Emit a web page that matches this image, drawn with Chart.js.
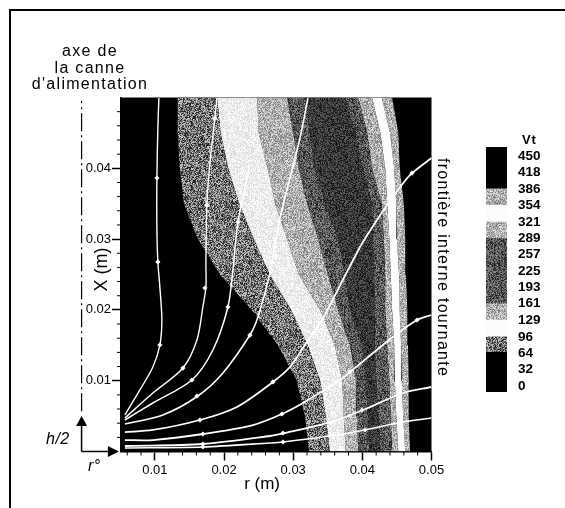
<!DOCTYPE html>
<html>
<head>
<meta charset="utf-8">
<title>Vt</title>
<script src="https://cdn.jsdelivr.net/npm/chart.js@4/dist/chart.umd.js"></script>
<style>
    body { margin: 0; background: #fff; width: 565px; height: 508px; overflow: hidden; position: relative; font-family: "Liberation Sans", Arial, sans-serif; color: #000; }
    canvas { position: absolute; display: block; }
    #frame { position: absolute; left: 9px; top: 9px; right: 0; bottom: 0; border-top: 2.5px solid #000; border-left: 2.5px solid #000; }
    .note { position: absolute; font-size: 16px; letter-spacing: 1.3px; white-space: nowrap; }
    #axeLabel { left: 0; top: 43px; width: 180px; text-align: center; line-height: 16.5px; }
    #frontiere { left: 434px; top: 158px; writing-mode: vertical-rl; }
    #hLabel { left: 46px; top: 430px; font-style: italic; letter-spacing: 0.5px; }
    #rLabel { left: 88px; top: 457px; font-style: italic; letter-spacing: 0.5px; }
    #vtLabel { left: 522px; top: 132px; font-size: 13px; font-weight: bold; letter-spacing: 0.8px; }
</style>
</head>
<body>
<div id="frame"></div>
<canvas id="fieldChart" width="470" height="508" style="left:0;top:0"></canvas>
<canvas id="legendChart" width="95" height="280" style="left:470px;top:130px"></canvas>
<div class="note" id="axeLabel">axe de<br>la canne<br>d'alimentation</div>
<div class="note" id="frontiere">frontière interne tournante</div>
<div class="note" id="hLabel">h/2</div>
<div class="note" id="rLabel">r°</div>
<div class="note" id="vtLabel">Vt</div>

<script>
// Heights (m) where the contour limits were read
const levelsX = [0, 0.005, 0.01, 0.015, 0.02, 0.025, 0.03, 0.035, 0.04, 0.045, 0.05];

// Contour limits, r (m) at each height, from the axis side to the wall
const limit64 = [0.0323, 0.0317, 0.0305, 0.0278, 0.0240, 0.0194, 0.0162, 0.0142, 0.0136, 0.0133, 0.0133];
const limit96 = [0.0353, 0.0347, 0.0339, 0.0321, 0.0297, 0.0266, 0.0243, 0.0222, 0.0206, 0.0195, 0.0190];
const limit129 = [0.0376, 0.0373, 0.0371, 0.0360, 0.0339, 0.0308, 0.0291, 0.0274, 0.0263, 0.0250, 0.0248];
const limit161 = [0.0394, 0.0392, 0.0391, 0.0382, 0.0365, 0.0350, 0.0336, 0.0320, 0.0308, 0.0300, 0.0291];
const limit193 = [0.0410, 0.0408, 0.0405, 0.0400, 0.0382, 0.0375, 0.0365, 0.0346, 0.0331, 0.0324, 0.0317];
const limit257 = [0.0426, 0.0423, 0.0420, 0.0418, 0.0418, 0.0417, 0.0415, 0.0414, 0.0400, 0.0389, 0.0375];
const limit289 = [0.0443, 0.0441, 0.0439, 0.0436, 0.0433, 0.0433, 0.0431, 0.0428, 0.0414, 0.0407, 0.0394];
const limit321 = [0.0452, 0.0449, 0.0447, 0.0446, 0.0443, 0.0441, 0.0439, 0.0436, 0.0433, 0.0426, 0.0414];
const limit354 = [0.0462, 0.0459, 0.0457, 0.0456, 0.0454, 0.0453, 0.0450, 0.0449, 0.0446, 0.0440, 0.0428];
const limit386 = [0.0469, 0.0467, 0.0467, 0.0466, 0.0465, 0.0463, 0.0462, 0.0460, 0.0454, 0.0452, 0.0443];

// Texture of each band between two limits
const bandLimits = [limit64, limit96, limit129, limit161, limit193, limit257, limit289, limit321, limit354, limit386];
const bandShades = [null, 'mid', 'white', 'light', 'dark', 'core', 'dark', 'light', 'bright', 'light'];

// Streamlines
const line1R = [0.00566, 0.00783, 0.00971, 0.01072, 0.01101, 0.01072, 0.01043, 0.01029, 0.01029, 0.01043, 0.01058];
const line1X = [0.00516, 0.00869, 0.01193, 0.01504, 0.01857, 0.02323, 0.02677, 0.03157, 0.03863, 0.04569, 0.04993];
const line2R = [0.00566, 0.00971, 0.01405, 0.01608, 0.01694, 0.01738, 0.01738, 0.01752, 0.01796, 0.01868, 0.01897];
const line2X = [0.00473, 0.00826, 0.01179, 0.01575, 0.02041, 0.02323, 0.02677, 0.03482, 0.04089, 0.0471, 0.04993];
const line3R = [0.00566, 0.00971, 0.01535, 0.01839, 0.02056, 0.02128, 0.02201, 0.02374];
const line3X = [0.00445, 0.00685, 0.0101, 0.01434, 0.02041, 0.02563, 0.03241, 0.04047];
const line4R = [0.00566, 0.01116, 0.01622, 0.01984, 0.02374, 0.0249, 0.02664, 0.02809, 0.02953, 0.03098, 0.03214];
const line4X = [0.00388, 0.00516, 0.00784, 0.01109, 0.01645, 0.019, 0.02521, 0.03298, 0.03863, 0.04428, 0.04993];
const line5R = [0.00566, 0.00971, 0.01651, 0.02186, 0.02707, 0.02953, 0.0317, 0.03416, 0.03792, 0.04009, 0.04328, 0.04516, 0.04689, 0.05];
const line5X = [0.00275, 0.00304, 0.00445, 0.00629, 0.00982, 0.01193, 0.01504, 0.01857, 0.02563, 0.02959, 0.03439, 0.03693, 0.03905, 0.04145];
const line6R = [0.00566, 0.00971, 0.01694, 0.02418, 0.02837, 0.03141, 0.03677, 0.03821, 0.04443, 0.04791, 0.05];
const line6X = [0.00162, 0.00162, 0.00247, 0.00374, 0.0053, 0.00685, 0.0101, 0.01123, 0.01617, 0.01857, 0.01928];
const line7R = [0.00566, 0.01694, 0.02664, 0.02881, 0.03503, 0.04009, 0.04588, 0.05];
const line7X = [0.00078, 0.00106, 0.00219, 0.00261, 0.00403, 0.00586, 0.00826, 0.00911];
const line8R = [0.00566, 0.01694, 0.02664, 0.02852, 0.03532, 0.04038, 0.04588, 0.05];
const line8X = [0.00049, 0.00064, 0.0012, 0.00134, 0.00219, 0.00304, 0.00417, 0.00473];
const lineWidths = [1.4, 1.4, 1.5, 1.6, 1.8, 1.8, 1.8, 1.6];

// Flow arrows on the streamlines
const arrowR = [0.01072, 0.01043, 0.01029, 0.01405, 0.01723, 0.01752, 0.01868, 0.01535, 0.02056, 0.02201, 0.01608, 0.02374,
    0.01651, 0.02707, 0.04718, 0.01694, 0.02837, 0.03821, 0.04791, 0.01694, 0.02852, 0.03995, 0.01694, 0.02852, 0.04038];
const arrowX = [0.01504, 0.02677, 0.03863, 0.01179, 0.02309, 0.03482, 0.0471, 0.0101, 0.02041, 0.03241, 0.00784, 0.01645,
    0.00445, 0.00982, 0.03933, 0.00247, 0.0053, 0.01123, 0.01857, 0.00106, 0.00261, 0.00586, 0.00064, 0.00134, 0.00304];

// Feed tube axis and the small h/2, r° arrows left of the plot
const tubeR = [-0.0006, -0.0006];
const tubeX = [0.0057, 0.0495];
const arrowUpR = [-0.0006, -0.0006];
const arrowUpX = [0, 0.0036];
const arrowSideR = [-0.0006, 0.0032];
const arrowSideX = [0, 0];

// Axis ticks
const rTicks = [0.01, 0.02, 0.03, 0.04, 0.05];
const xTicks = [0.01, 0.02, 0.03, 0.04];
const rMinorTicks = [0.006, 0.008, 0.012, 0.014, 0.016, 0.018, 0.022, 0.024, 0.026, 0.028, 0.032, 0.034, 0.036, 0.038, 0.042, 0.044, 0.046, 0.048];
const xMinorTicks = [0.002, 0.004, 0.006, 0.008, 0.012, 0.014, 0.016, 0.018, 0.022, 0.024, 0.026, 0.028, 0.032, 0.034, 0.036, 0.038, 0.042, 0.044, 0.046, 0.048];

// Vt colour key
const vtTicks = [0, 32, 64, 96, 129, 161, 193, 225, 257, 289, 321, 354, 386, 418, 450];
const vtLimits = [-12, 66, 96, 129, 161, 289, 321, 354, 386, 468];
const vtShades = ['black', 'mid', 'bright', 'light', 'dark', 'light', 'bright', 'light', 'black'];

// Scanned halftone look: mean grey and spread of each texture
const shadeGrey = {
    mid: [115, 200],
    white: [238, 50],
    bright: [252, 6],
    light: [175, 120],
    dark: [85, 130],
    core: [55, 90]
};

function makeShade(name) {
    if (name === 'black') return '#000';
    const tile = document.createElement('canvas');
    tile.width = tile.height = 64;
    const tileCtx = tile.getContext('2d');
    const [mean, spread] = shadeGrey[name];
    let seed = name.length * 7919 + name.charCodeAt(0);
    for (let py = 0; py < 64; py++) {
        for (let px = 0; px < 64; px++) {
            seed = (seed * 1103515245 + 12345) & 0x7fffffff;
            const grey = Math.round(mean + (((seed >> 8) % 1000) / 1000 - 0.5) * spread);
            tileCtx.fillStyle = `rgb(${grey}, ${grey}, ${grey})`;
            tileCtx.fillRect(px, py, 1, 1);
        }
    }
    return tileCtx.createPattern(tile, 'repeat');
}

function pairs(rValues, xValues) {
    return rValues.map((r, i) => ({ x: r, y: xValues[i] }));
}

const datasets = [];

// Bands: each limit fills back to the previous limit
bandLimits.forEach((limit, i) => {
    datasets.push({
        data: pairs(limit, levelsX),
        borderWidth: 0,
        pointRadius: 0,
        fill: i === 0 ? false : '-1',
        backgroundColor: bandShades[i] ? makeShade(bandShades[i]) : 'transparent',
        order: 3
    });
});

[[line1R, line1X], [line2R, line2X], [line3R, line3X], [line4R, line4X],
 [line5R, line5X], [line6R, line6X], [line7R, line7X], [line8R, line8X]].forEach(([r, x], i) => {
    datasets.push({
        data: pairs(r, x),
        borderColor: '#fff',
        borderWidth: lineWidths[i],
        tension: 0.3,
        pointRadius: 0,
        fill: false,
        order: 2
    });
});

datasets.push({
    data: pairs(arrowR, arrowX),
    showLine: false,
    pointStyle: 'rectRot',
    pointRadius: 2.6,
    pointBackgroundColor: '#fff',
    pointBorderWidth: 0,
    order: 1
});

datasets.push({
    data: pairs(tubeR, tubeX),
    borderColor: '#000',
    borderWidth: 1.2,
    borderDash: [18, 4, 2, 4],
    pointRadius: 0,
    clip: false,
    order: 1
});
datasets.push({
    data: pairs(arrowUpR, arrowUpX),
    borderColor: '#000',
    borderWidth: 1.5,
    pointRadius: 0,
    clip: false,
    order: 1
});
datasets.push({
    data: pairs(arrowSideR, arrowSideX),
    borderColor: '#000',
    borderWidth: 1.5,
    pointRadius: 0,
    clip: false,
    order: 1
});

// Black plot background, the short unlabelled ticks, the two arrow heads outside the plot
const plotExtras = {
    id: 'plotExtras',
    beforeDatasetsDraw(chart) {
        const { ctx, chartArea } = chart;
        ctx.save();
        ctx.fillStyle = '#000';
        ctx.fillRect(chartArea.left, chartArea.top, chartArea.right - chartArea.left, chartArea.bottom - chartArea.top);
        ctx.restore();
    },
    afterDraw(chart) {
        const { ctx, chartArea, scales } = chart;
        ctx.save();
        ctx.strokeStyle = '#000';
        ctx.lineWidth = 1;
        ctx.beginPath();
        rMinorTicks.forEach(v => {
            const px = scales.x.getPixelForValue(v);
            ctx.moveTo(px, chartArea.bottom);
            ctx.lineTo(px, chartArea.bottom + 4);
        });
        xMinorTicks.forEach(v => {
            const py = scales.y.getPixelForValue(v);
            ctx.moveTo(chartArea.left, py);
            ctx.lineTo(chartArea.left - 4, py);
        });
        ctx.stroke();

        ctx.fillStyle = '#000';
        const upX = scales.x.getPixelForValue(arrowUpR[1]);
        const upY = scales.y.getPixelForValue(arrowUpX[1]);
        ctx.beginPath();
        ctx.moveTo(upX, upY - 10);
        ctx.lineTo(upX - 5.5, upY);
        ctx.lineTo(upX + 5.5, upY);
        ctx.fill();
        const sideX = scales.x.getPixelForValue(arrowSideR[1]);
        const sideY = scales.y.getPixelForValue(arrowSideX[1]);
        ctx.beginPath();
        ctx.moveTo(sideX + 11, sideY);
        ctx.lineTo(sideX, sideY - 5.5);
        ctx.lineTo(sideX, sideY + 5.5);
        ctx.fill();
        ctx.restore();
    }
};

new Chart(document.getElementById('fieldChart').getContext('2d'), {
    type: 'line',
    data: { datasets: datasets },
    plugins: [plotExtras],
    options: {
        indexAxis: 'y',
        responsive: false,
        animation: false,
        layout: { padding: { left: 61, top: 97.5, right: 38.5, bottom: 13 } },
        plugins: { legend: { display: false }, tooltip: { enabled: false } },
        scales: {
            x: {
                type: 'linear',
                min: 0.0051,
                max: 0.05,
                afterFit: scale => { scale.height = 43.5; },
                afterBuildTicks: scale => { scale.ticks = rTicks.map(v => ({ value: v })); },
                grid: { drawOnChartArea: false, tickLength: 9, tickWidth: 1.5, tickColor: '#000' },
                border: { color: '#000', width: 1.5 },
                ticks: {
                    color: '#000',
                    padding: 2,
                    maxRotation: 0,
                    autoSkip: false,
                    font: { family: 'Liberation Sans', size: 13 },
                    callback: value => value.toFixed(2)
                },
                title: {
                    display: true,
                    text: 'r (m)\u00a0\u00a0\u00a0\u00a0\u00a0\u00a0',
                    color: '#000',
                    padding: 0,
                    font: { family: 'Liberation Sans', size: 17 }
                }
            },
            y: {
                type: 'linear',
                min: 0,
                max: 0.05,
                afterFit: scale => { scale.width = 60; },
                afterBuildTicks: scale => { scale.ticks = xTicks.map(v => ({ value: v })); },
                grid: { drawOnChartArea: false, tickLength: 9, tickWidth: 1.5, tickColor: '#000' },
                border: { color: '#000', width: 1.5 },
                ticks: {
                    color: '#000',
                    padding: 1,
                    autoSkip: false,
                    font: { family: 'Liberation Sans', size: 13 },
                    callback: value => value.toFixed(2)
                },
                title: {
                    display: true,
                    text: '\u00a0\u00a0X (m)',
                    color: '#000',
                    padding: { top: 30, bottom: 0 },
                    font: { family: 'Liberation Sans', size: 18 }
                }
            }
        }
    }
});

// Colour key: one floating bar per texture on a Vt axis
new Chart(document.getElementById('legendChart').getContext('2d'), {
    type: 'bar',
    data: {
        labels: ['Vt'],
        datasets: vtShades.map((shade, i) => ({
            data: [[vtLimits[i], vtLimits[i + 1]]],
            backgroundColor: makeShade(shade),
            barPercentage: 1,
            categoryPercentage: 1,
            grouped: false
        }))
    },
    options: {
        responsive: false,
        animation: false,
        layout: { padding: { left: 16, top: 17, right: 0, bottom: 18 } },
        plugins: { legend: { display: false }, tooltip: { enabled: false } },
        scales: {
            x: { display: false },
            y: {
                position: 'right',
                min: -12,
                max: 468,
                afterFit: scale => { scale.width = 58; },
                afterBuildTicks: scale => { scale.ticks = vtTicks.map(v => ({ value: v })); },
                grid: { display: false },
                border: { display: false },
                ticks: {
                    color: '#000',
                    padding: 3,
                    autoSkip: false,
                    font: { family: 'Liberation Sans', size: 13.5, weight: 'bold' }
                }
            }
        }
    }
});
</script>
</body>
</html>
